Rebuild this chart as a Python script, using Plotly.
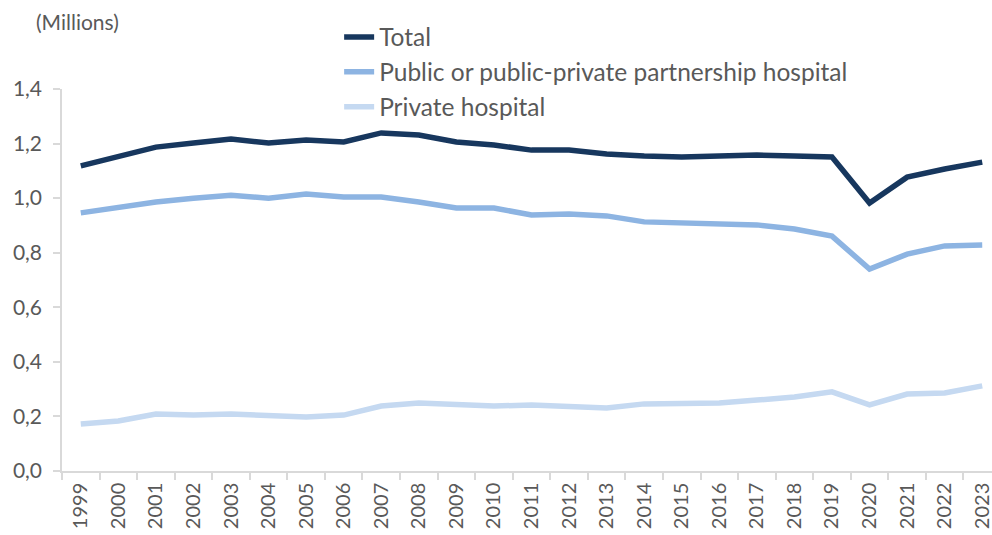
import plotly.graph_objects as go

# Hospital admissions by hospital type, in millions
years = [str(y) for y in range(1999, 2024)]
total = [1.118, 1.151, 1.187, 1.202, 1.217, 1.202, 1.213, 1.206, 1.239, 1.231,
         1.206, 1.195, 1.176, 1.176, 1.162, 1.154, 1.151, 1.154, 1.158, 1.154,
         1.151, 0.982, 1.077, 1.107, 1.132]
public = [0.946, 0.968, 0.986, 1.000, 1.011, 1.000, 1.015, 1.004, 1.004, 0.986,
          0.964, 0.964, 0.938, 0.942, 0.935, 0.913, 0.909, 0.909, 0.902, 0.887,
          0.861, 0.740, 0.795, 0.825, 0.828]
private = [0.172, 0.183, 0.209, 0.205, 0.209, 0.202, 0.198, 0.205, 0.238, 0.249,
           0.242, 0.238, 0.242, 0.238, 0.231, 0.246, 0.246, 0.249, 0.260, 0.271,
           0.290, 0.242, 0.282, 0.286, 0.312]
y_ticks = [0.0, 0.2, 0.4, 0.6, 0.8, 1.0, 1.2, 1.4]
y_tick_text = ["0,0", "0,2", "0,4", "0,6", "0,8", "1,0", "1,2", "1,4"]

series = [
    ("Total", total, "#17375e"),
    ("Public or public-private partnership hospital", public, "#8db4e2"),
    ("Private hospital", private, "#c5d9f1"),
]

FONT = "Lato"
GREY = "#595959"
AXIS = "#d9d9d9"

fig = go.Figure()
for i, (name, vals, color) in enumerate(series):
    fig.add_trace(go.Scatter(
        x=years, y=vals, name=name, mode="lines",
        line=dict(color=color, width=5.5),
        legendgroup=f"g{i}",
    ))

fig.update_layout(
    width=992, height=535,
    margin=dict(l=62, r=0, t=89, b=64),
    plot_bgcolor="white", paper_bgcolor="white",
    font=dict(family=FONT, color=GREY),
    showlegend=True,
    legend=dict(
        x=0.298, y=1.195, xanchor="left", yanchor="top",
        font=dict(family=FONT, size=24.5, color=GREY),
        bgcolor="rgba(0,0,0,0)", tracegroupgap=0,
    ),
    xaxis=dict(
        type="category", range=[-0.5, 24.26],
        showgrid=False, showline=True, linecolor=AXIS, linewidth=1.5,
        ticks="outside", tickson="boundaries", ticklen=7, tickcolor=AXIS,
        tickwidth=1.5, tickangle=-90, ticklabelstandoff=2,
        tickfont=dict(family=FONT, size=20, color=GREY),
    ),
    yaxis=dict(
        range=[0, 1.4], tickvals=y_ticks, ticktext=y_tick_text,
        showgrid=False, showline=True, linecolor=AXIS, linewidth=1.5,
        ticks="outside", ticklen=7, tickcolor=AXIS, tickwidth=1.5,
        ticklabelstandoff=7,
        tickfont=dict(family=FONT, size=21, color=GREY),
        zeroline=False,
    ),
    annotations=[dict(
        text="(Millions)", xref="paper", yref="paper",
        x=-0.03, y=1.178, xanchor="left", yanchor="middle",
        showarrow=False, font=dict(family=FONT, size=21, color=GREY),
    )],
)

fig.write_html("out.html")
